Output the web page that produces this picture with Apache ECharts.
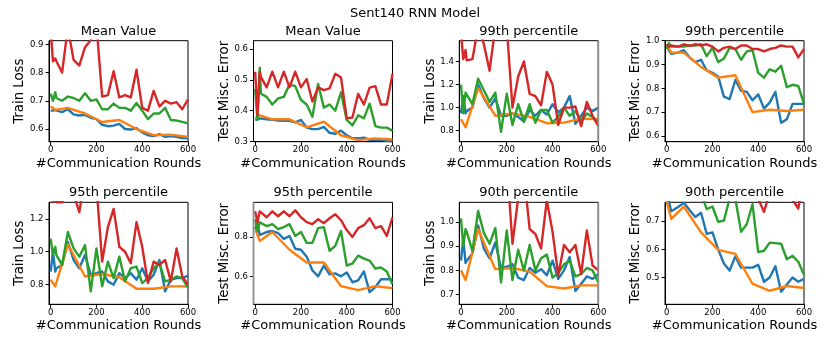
<!DOCTYPE html>
<html><head><meta charset="utf-8">
<script src="https://cdn.jsdelivr.net/npm/echarts@6/dist/echarts.min.js"></script>
<style>html,body{margin:0;padding:0;background:#fff}#c{width:830px;height:363px}</style>
</head><body><div id="c"></div>
<script>
// ---------- DATA ----------
const rounds = [0,10,20,25,50,75,100,125,150,175,200,225,250,275,300,325,350,375,400,425,450,475,500,525,550,575,600];
const roundsOrange = [0,20,75,150,225,300,375,450,525,600];
const xTicks = [0,200,400,600];

const mainTitle = 'Sent140 RNN Model';
const panelTitles = ['Mean Value','Mean Value','99th percentile','99th percentile','95th percentile','95th percentile','90th percentile','90th percentile'];
const panelYLabels = ['Train Loss','Test Misc. Error','Train Loss','Test Misc. Error','Train Loss','Test Misc. Error','Train Loss','Test Misc. Error'];
const xLabel = '#Communication Rounds';

// y tick labels per panel
const yTicks1 = [0.6,0.7,0.8,0.9];
const yTicks2 = [0.3,0.4,0.5,0.6];
const yTicks3 = [0.8,1.0,1.2,1.4];
const yTicks4 = [0.6,0.7,0.8,0.9,1.0];
const yTicks5 = [0.8,1.0,1.2];
const yTicks6 = [0.6,0.8];
const yTicks7 = [0.7,0.8,0.9,1.0];
const yTicks8 = [0.5,0.6,0.7];

// Panel 1: mean train loss
const meanLossBlue   = [0.665,0.665,0.667,0.664,0.66,0.67,0.652,0.648,0.65,0.64,0.635,0.615,0.61,0.612,0.618,0.60,0.598,0.603,0.588,0.578,0.575,0.582,0.572,0.575,0.572,0.568,0.567];
const meanLossOrange = [0.68,0.668,0.675,0.655,0.625,0.632,0.60,0.578,0.58,0.572];
const meanLossGreen  = [0.725,0.70,0.73,0.71,0.70,0.715,0.71,0.70,0.727,0.70,0.705,0.67,0.67,0.69,0.675,0.675,0.665,0.692,0.665,0.635,0.655,0.655,0.675,0.632,0.63,0.625,0.62];
const meanLossRed    = [0.95,0.84,0.85,0.84,0.80,0.96,0.845,0.825,0.89,0.915,0.97,0.715,0.72,0.805,0.712,0.72,0.712,0.81,0.675,0.665,0.735,0.68,0.70,0.69,0.695,0.67,0.705];

// Panel 2: mean test error
const meanErrBlue   = [0.37,0.372,0.375,0.375,0.372,0.37,0.368,0.367,0.367,0.362,0.37,0.345,0.34,0.34,0.347,0.328,0.325,0.335,0.32,0.31,0.31,0.312,0.305,0.305,0.305,0.302,0.30];
const meanErrOrange = [0.375,0.385,0.372,0.372,0.346,0.364,0.32,0.304,0.31,0.306];
const meanErrGreen  = [0.47,0.37,0.54,0.455,0.445,0.42,0.44,0.445,0.485,0.48,0.435,0.42,0.38,0.487,0.41,0.42,0.40,0.46,0.37,0.352,0.385,0.375,0.423,0.35,0.345,0.345,0.335];
const meanErrRed    = [0.527,0.385,0.527,0.51,0.476,0.527,0.476,0.527,0.476,0.527,0.476,0.503,0.43,0.476,0.467,0.473,0.52,0.508,0.375,0.378,0.455,0.42,0.475,0.48,0.42,0.42,0.52];

// Panel 3: 99th percentile train loss
const p99LossBlue   = [0.95,1.10,0.95,0.97,1.0,1.2,1.08,1.0,1.08,0.93,0.93,0.95,0.92,0.88,0.98,0.93,0.98,0.94,1.03,0.96,1.0,1.1,0.86,0.93,1.0,0.97,1.0];
const p99LossOrange = [0.9,0.83,1.17,0.93,0.95,0.92,0.865,0.87,0.905,0.9];
const p99LossGreen  = [1.2,0.95,1.13,1.12,1.03,1.25,1.15,1.05,1.13,0.79,1.12,0.85,1.03,0.88,1.03,0.87,0.98,0.98,0.87,0.92,1.0,0.93,0.97,0.88,0.95,0.92,0.87];
const p99LossRed    = [1.65,1.42,1.5,1.41,1.42,1.7,1.55,1.32,1.7,1.9,1.7,1.0,1.27,1.40,1.12,1.10,1.02,1.31,1.2,0.85,1.0,1.0,1.01,0.84,1.05,0.93,0.84];

// Panel 4: 99th percentile test error
const p99ErrBlue   = [0.975,0.96,0.945,0.95,0.95,0.96,0.93,0.91,0.92,0.875,0.865,0.85,0.765,0.755,0.835,0.79,0.785,0.75,0.775,0.715,0.74,0.785,0.655,0.67,0.735,0.735,0.735];
const p99ErrOrange = [0.985,0.95,0.95,0.89,0.845,0.855,0.70,0.71,0.705,0.71];
const p99ErrGreen  = [0.965,0.99,0.975,0.975,0.975,0.975,0.98,0.98,0.985,0.935,0.97,0.91,0.925,0.97,0.965,0.92,0.955,0.96,0.865,0.845,0.88,0.87,0.895,0.805,0.815,0.81,0.735];
const p99ErrRed    = [0.985,0.975,0.98,0.98,0.975,0.985,0.978,0.985,0.98,0.985,0.975,0.955,0.97,0.975,0.965,0.98,0.98,0.965,0.965,0.955,0.965,0.97,0.98,0.975,0.975,0.93,0.965];

// Panel 5: 95th percentile train loss
const p95LossBlue   = [0.88,1.0,0.88,0.9,0.92,1.06,0.95,0.9,0.98,0.86,0.87,0.88,0.82,0.8,0.87,0.84,0.87,0.83,0.9,0.82,0.86,0.95,0.76,0.83,0.84,0.84,0.855];
const p95LossOrange = [0.83,0.79,1.045,0.85,0.865,0.845,0.775,0.775,0.79,0.79];
const p95LossGreen  = [1.08,0.98,1.03,0.98,0.92,1.12,1.02,0.97,1.04,0.76,1.02,0.79,0.94,0.84,0.97,0.82,0.9,0.91,0.81,0.84,0.9,0.93,0.82,0.83,0.85,0.84,0.78];
const p95LossRed    = [1.4,1.3,1.35,1.3,1.3,1.4,1.35,1.24,1.45,1.6,1.4,0.94,1.15,1.26,1.03,1.0,0.93,1.18,1.03,0.81,0.94,0.92,0.95,0.82,1.02,0.85,0.8];

// Panel 6: 95th percentile test error
const p95ErrBlue   = [0.84,0.87,0.81,0.815,0.825,0.83,0.82,0.79,0.805,0.74,0.735,0.70,0.63,0.60,0.655,0.61,0.615,0.60,0.62,0.57,0.58,0.625,0.52,0.545,0.585,0.585,0.585];
const p95ErrOrange = [0.84,0.78,0.825,0.735,0.67,0.67,0.55,0.53,0.55,0.54];
const p95ErrGreen  = [0.89,0.83,0.875,0.87,0.855,0.865,0.84,0.85,0.865,0.805,0.825,0.77,0.77,0.845,0.85,0.73,0.755,0.83,0.655,0.665,0.705,0.69,0.68,0.64,0.645,0.625,0.56];
const p95ErrRed    = [0.93,0.875,0.93,0.925,0.90,0.93,0.905,0.93,0.905,0.935,0.90,0.875,0.865,0.89,0.87,0.895,0.915,0.885,0.835,0.80,0.845,0.86,0.895,0.845,0.855,0.805,0.90];

// Panel 7: 90th percentile train loss
const p90LossBlue   = [0.84,0.93,0.83,0.84,0.87,0.985,0.89,0.85,0.915,0.81,0.815,0.825,0.77,0.76,0.81,0.79,0.805,0.78,0.84,0.765,0.80,0.855,0.715,0.745,0.775,0.765,0.785];
const p90LossOrange = [0.80,0.76,0.97,0.805,0.81,0.795,0.735,0.725,0.738,0.738];
const p90LossGreen  = [1.015,0.90,0.97,0.96,0.88,1.045,0.955,0.91,0.975,0.75,0.965,0.76,0.885,0.80,0.905,0.80,0.85,0.865,0.77,0.79,0.825,0.84,0.775,0.785,0.81,0.80,0.75];
const p90LossRed    = [1.2,1.15,1.18,1.15,1.15,1.25,1.2,1.12,1.25,1.35,1.25,0.91,1.1,1.2,0.97,0.95,0.89,1.09,0.96,0.78,0.905,0.875,0.905,0.785,0.965,0.82,0.80];

// Panel 8: 90th percentile test error
const p90ErrBlue   = [0.78,0.77,0.735,0.74,0.75,0.765,0.74,0.715,0.73,0.655,0.66,0.60,0.55,0.525,0.575,0.535,0.535,0.535,0.545,0.485,0.50,0.54,0.45,0.475,0.50,0.485,0.495];
const p90ErrOrange = [0.77,0.708,0.752,0.66,0.598,0.584,0.478,0.453,0.47,0.463];
const p90ErrGreen  = [0.80,0.78,0.79,0.78,0.79,0.78,0.80,0.79,0.80,0.743,0.752,0.698,0.702,0.78,0.78,0.662,0.69,0.76,0.59,0.595,0.624,0.622,0.62,0.565,0.577,0.556,0.51];
const p90ErrRed    = [0.95,0.92,0.94,0.93,0.92,0.94,0.93,0.94,0.92,0.93,0.9,0.88,0.87,0.9,0.88,0.9,0.91,0.87,0.78,0.733,0.8,0.85,0.88,0.82,0.776,0.745,0.855];

// ---------- LAYOUT ----------
const xRange = [-7.3, 600];
const yRanges = [[0.555,0.913],[0.299,0.628],[0.705,1.58],[0.576,1.0],[0.681,1.3],[0.458,0.976],[0.66,1.081],[0.405,0.767]];
const yTickSets = [yTicks1,yTicks2,yTicks3,yTicks4,yTicks5,yTicks6,yTicks7,yTicks8];
const blues = [meanLossBlue,meanErrBlue,p99LossBlue,p99ErrBlue,p95LossBlue,p95ErrBlue,p90LossBlue,p90ErrBlue];
const oranges = [meanLossOrange,meanErrOrange,p99LossOrange,p99ErrOrange,p95LossOrange,p95ErrOrange,p90LossOrange,p90ErrOrange];
const greens = [meanLossGreen,meanErrGreen,p99LossGreen,p99ErrGreen,p95LossGreen,p95ErrGreen,p90LossGreen,p90ErrGreen];
const reds = [meanLossRed,meanErrRed,p99LossRed,p99ErrRed,p95LossRed,p95ErrRed,p90LossRed,p90ErrRed];

const colLeft = [49, 253.5, 459.3, 665];
const colWidth = 139;
const rowTop = [40.7, 202.3];
const rowHeight = [101, 102];
const FONT = '"DejaVu Sans", sans-serif';
const colors = ['#1f77b4','#ff7f0e','#2ca02c','#d62728'];
// panels whose right (r) or left (l) frame edge shows as a thick grey line
const greySpines = {2:'r', 6:'r', 5:'l'};

const grids=[], xAxes=[], yAxes=[], series=[], graphics=[];
graphics.push({type:'text', x:415, y:14, style:{text:mainTitle, font:'13px '+FONT, fill:'#000', align:'center', verticalAlign:'middle', textAlign:'center', textVerticalAlign:'middle'}});

for (let i=0;i<8;i++){
  const col=i%4, row=Math.floor(i/4);
  const left=colLeft[col], top=rowTop[row], w=colWidth, h=rowHeight[row];
  grids.push({left:left, top:top, width:w, height:h, show:true, borderColor:'#000', borderWidth:1, backgroundColor:'rgba(0,0,0,0)', containLabel:false, outerBoundsMode:'none'});
  xAxes.push({type:'value', gridIndex:i, min:xRange[0], max:xRange[1],
    axisLine:{show:true,onZero:false,lineStyle:{color:'#000',width:1}},
    axisTick:{show:true,inside:false,length:3.5,customValues:xTicks,lineStyle:{color:'#000',width:1}},
    axisLabel:{show:true,customValues:xTicks,fontSize:8.5,fontFamily:FONT,color:'#000',margin:3.5,formatter:v=>String(Math.round(v))},
    splitLine:{show:false}});
  const yt=yTickSets[i];
  yAxes.push({type:'value', gridIndex:i, min:yRanges[i][0], max:yRanges[i][1],
    axisLine:{show:true,onZero:false,lineStyle:{color:'#000',width:1}},
    axisTick:{show:true,inside:false,length:3.5,customValues:yt,lineStyle:{color:'#000',width:1}},
    axisLabel:{show:true,customValues:yt,fontSize:8.5,fontFamily:FONT,color:'#000',margin:5.5,formatter:v=>v.toFixed(1)},
    splitLine:{show:false}});
  const sets=[[rounds,blues[i]],[roundsOrange,oranges[i]],[rounds,greens[i]],[rounds,reds[i]]];
  sets.forEach((s,k)=>{
    series.push({type:'line', xAxisIndex:i, yAxisIndex:i, data:s[0].map((x,j)=>[x,s[1][j]]),
      showSymbol:false, symbol:'none', clip:true, silent:true, animation:false,
      lineStyle:{color:colors[k],width:2.4,join:'round',cap:'butt'}, z:2+k});
  });
  const cx = left + w/2, cy = top + h/2;
  graphics.push({type:'text', x:cx, y:top-9.5, style:{text:panelTitles[i], font:'13px '+FONT, fill:'#000', align:'center', verticalAlign:'middle', textAlign:'center', textVerticalAlign:'middle'}});
  graphics.push({type:'text', x:cx, y:top+h+21.5, style:{text:xLabel, font:'13px '+FONT, fill:'#000', align:'center', verticalAlign:'middle', textAlign:'center', textVerticalAlign:'middle'}});
  graphics.push({type:'text', x:left-29, y:cy, rotation:Math.PI/2, style:{text:panelYLabels[i], font:'13.3px '+FONT, fill:'#000', align:'center', verticalAlign:'middle', textAlign:'center', textVerticalAlign:'middle'}});
  if (greySpines[i]) {
    const sx = greySpines[i]==='r' ? left + w : left;
    graphics.push({type:'line', z:100, shape:{x1:sx, y1:top, x2:sx, y2:top+h}, style:{stroke:'#8c8c8c', lineWidth:1.8}});
  }
}

const chart = echarts.init(document.getElementById('c'), null, {renderer:'canvas'});
chart.setOption({
  animation:false,
  backgroundColor:'#fff',
  grid:grids, xAxis:xAxes, yAxis:yAxes, series:series, graphic:graphics
});
</script>
</body></html>
